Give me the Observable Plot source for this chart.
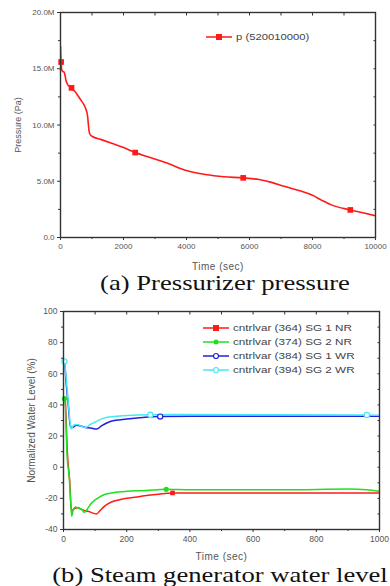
<!DOCTYPE html>
<html><head><meta charset="utf-8">
<script src="https://cdn.jsdelivr.net/npm/d3@7"></script>
<script src="https://cdn.jsdelivr.net/npm/@observablehq/plot@0.6"></script>
<style>
body{margin:0;background:#fff;}
#root{position:relative;width:390px;height:586px;overflow:hidden;font-family:Arial,"Liberation Sans",sans-serif;background:#fff;}
.panel{position:absolute;left:0;}
.cap{position:absolute;white-space:nowrap;font-family:"Liberation Serif","Times New Roman",serif;font-size:22px;line-height:20px;color:#111;transform:translateX(-50%) scaleX(1.21);}
.leg{position:absolute;font-size:9px;line-height:10px;color:#444;white-space:nowrap;}
.leg svg{vertical-align:middle;margin-right:3px;}
.leg span{display:inline-block;vertical-align:middle;transform-origin:0 50%;}
</style></head>
<body><div id="root"></div>
<script>
// ---------- Data: (a) pressurizer pressure (MPa) ----------
const pTime  = [0,10,20,40,80,115,145,170,200,250,300,340,450,625,780,830,860,880,900,930,1000,1300,1600,2000,2370,2800,3400,4000,4600,5200,5800,6300,6700,7100,7600,8000,8300,8600,9200,9600,10000];
const pValue = [17.0,16.0,15.6,14.9,14.75,14.7,14.4,14.0,13.75,13.5,13.4,13.25,13.0,12.3,11.6,11.2,10.8,10.2,9.6,9.2,9.0,8.7,8.4,8.0,7.55,7.15,6.6,5.95,5.6,5.4,5.3,5.15,4.9,4.55,4.15,3.75,3.3,2.9,2.45,2.2,1.93];
const pMarkTime  = [20,350,2370,5800,9200];
const pMarkValue = [15.6,13.3,7.55,5.3,2.45];
const pSeriesName = "p (520010000)";
const pXTicks = [0,2000,4000,6000,8000,10000];
const pXMinor = [1000,3000,5000,7000,9000];
const pYTicks = [0,5,10,15,20];
const pYTickLabels = ["0.0","5.0M","10.0M","15.0M","20.0M"];
const pYMinor = [2.5,7.5,12.5,17.5];

// ---------- Data: (b) steam generator water level (%) ----------
const sgNames = ["cntrlvar (364) SG 1 NR","cntrlvar (374) SG 2 NR","cntrlvar (384) SG 1 WR","cntrlvar (394) SG 2 WR"];
const sgColors = ["#ff1a1a","#1ee01e","#2020dd","#44e8f6"];
const sg1nrTime  = [0,5,12,20,25,35,45,60,80,105,115,130,150,175,200,250,300,345,400,1000];
const sg1nrValue = [45,44,10,-10,-28,-26.5,-26,-27.5,-28.5,-30,-28,-25,-22.5,-21,-20,-18.5,-17.3,-16.5,-16.5,-16.5];
const sg2nrTime  = [0,4,12,18,22,26,30,38,50,58,66,75,85,100,115,130,160,200,260,325,400,700,900,960,1000];
const sg2nrValue = [44,44,5,-6,-20,-31.5,-28,-25.5,-26.5,-27,-29,-27,-24,-21,-19,-17.5,-16.3,-15.5,-15,-14.2,-14.5,-14.5,-14,-14.5,-15.5];
const sg1wrTime  = [0,3,8,15,22,30,40,55,70,85,105,120,150,200,250,306,400,1000];
const sg1wrValue = [68,68,55,40,26,25.5,27,26.5,25.5,25.2,24.5,26.5,29.5,31,32,32.5,32.7,32.7];
const sg2wrTime  = [0,3,8,15,22,25,32,45,55,70,85,100,130,160,200,275,400,960,1000];
const sg2wrValue = [68,68,58,42,27,24.5,27,27.5,26.5,25.5,27.5,29,31.7,32.5,33.2,33.7,33.8,33.6,33.3];
const sgMarkTime  = [[345],[3,325],[306],[3,275,960]];
const sgMarkValue = [[-16.5],[44,-14.2],[32.5],[68,33.7,33.6]];
const sgSymbols = ["square","circle","circle","circle"];
const sgFilled  = [true,true,false,false];
const sXTicks = [0,200,400,600,800,1000];
const sXMinor = [100,300,500,700,900];
const sYTicks = [-40,-20,0,20,40,60,80,100];
const sYMinor = [-30,-10,10,30,50,70,90];

// ---------- Build rows ----------
const pRows = pTime.map((t,i)=>({t, v:pValue[i]}));
const pMarks = pMarkTime.map((t,i)=>({t, v:pMarkValue[i]}));
const sgTimes = [sg1nrTime,sg2nrTime,sg1wrTime,sg2wrTime];
const sgValues = [sg1nrValue,sg2nrValue,sg1wrValue,sg2wrValue];
const sgRows = sgTimes.map((ts,k)=>ts.map((t,i)=>({t, v:sgValues[k][i]})));
const sgMarks = sgMarkTime.map((ts,k)=>ts.map((t,i)=>({t, v:sgMarkValue[k][i]})));

const root = document.getElementById("root");
const axisColor = "#333";
function textStyle(fs){ return {fontFamily:"Arial, 'Liberation Sans', sans-serif", fontSize:fs, color:"#555", background:"transparent", overflow:"visible"}; }

function frameAxes(xT, xM, yT, yM, yFmt, yLabel, yLabelOffset, xLabelOffset) {
  return [
    Plot.axisX({ticks:xM, tickSize:2, tickFormat:()=>"", label:null, stroke:axisColor}),
    Plot.axisX({ticks:xT, tickSize:3, tickPadding:3, tickFormat:d=>String(d), label:"Time (sec)", labelAnchor:"center", labelOffset:xLabelOffset, labelArrow:"none", stroke:axisColor, fill:"#555"}),
    Plot.axisY({ticks:yM, tickSize:2, tickFormat:()=>"", label:null, stroke:axisColor}),
    Plot.axisY({ticks:yT, tickSize:3, tickPadding:3, tickFormat:yFmt, label:yLabel, labelAnchor:"center", labelOffset:yLabelOffset, labelArrow:"none", stroke:axisColor, fill:"#555"}),
    Plot.axisX({anchor:"top", ticks:xT.concat(xM), tickSize:-2.5, tickFormat:()=>"", label:null, stroke:axisColor}),
    Plot.axisY({anchor:"right", ticks:yT.concat(yM), tickSize:-2.5, tickFormat:()=>"", label:null, stroke:axisColor}),
    Plot.frame({stroke:axisColor, strokeWidth:1.4})
  ];
}
function styleLabels(svg, xfs, yfs){
  svg.querySelectorAll('[aria-label="x-axis label"]').forEach(g=>{ g.style.fontSize = xfs; g.style.letterSpacing = "0.5px"; });
  svg.querySelectorAll('[aria-label="y-axis label"]').forEach(g=>{ g.style.fontSize = yfs; });
}

// ---------- Panel (a) ----------
const p1 = Plot.plot({
  width:390, height:272, marginTop:12, marginBottom:35, marginLeft:60, marginRight:15,
  style:textStyle("8px"),
  x:{domain:[0,10000]}, y:{domain:[0,20]},
  marks:[
    Plot.line(pRows, {x:"t", y:"v", stroke:"#ff1a1a", strokeWidth:1.6, curve:"monotone-x", clip:true}),
    Plot.dot(pMarks, {x:"t", y:"v", symbol:"square", fill:"#ff1a1a", r:3.2}),
    ...frameAxes(pXTicks, pXMinor, pYTicks, pYMinor, d=>pYTickLabels[pYTicks.indexOf(d)], "Pressure (Pa)", 46, 32)
  ]
});
styleLabels(p1, "10px", "9px");
p1.classList.add("panel"); p1.style.top = "0px";
root.appendChild(p1);

// ---------- Panel (b) ----------
const marks2 = [];
sgRows.forEach((rows,k)=>{
  marks2.push(Plot.line(rows, {x:"t", y:"v", stroke:sgColors[k], strokeWidth:1.5, curve:"monotone-x", clip:true}));
});
sgMarks.forEach((rows,k)=>{
  marks2.push(Plot.dot(rows, {x:"t", y:"v", symbol:sgSymbols[k], r:2.6,
    fill: sgFilled[k] ? sgColors[k] : "white", stroke: sgColors[k], strokeWidth: sgFilled[k] ? 0 : 1.2}));
});
const p2 = Plot.plot({
  width:390, height:267, marginTop:13, marginBottom:36, marginLeft:63, marginRight:11,
  style:textStyle("8.5px"),
  x:{domain:[0,1000]}, y:{domain:[-40,100]},
  marks:[...marks2, ...frameAxes(sXTicks, sXMinor, sYTicks, sYMinor, d=>String(d), "Normalized Water Level (%)", 36, 30)]
});
styleLabels(p2, "10px", "10px");
p2.classList.add("panel"); p2.style.top = "298px";
root.appendChild(p2);

// ---------- Captions ----------
function caption(text, cx, top){
  const d = document.createElement("div");
  d.className = "cap"; d.textContent = text;
  d.style.left = cx + "px"; d.style.top = top + "px";
  root.appendChild(d);
}
caption("(a) Pressurizer pressure", 225, 273);
caption("(b) Steam generator water level", 220, 565);

// ---------- Legends ----------
function legendRow(left, top, color, symbol, filled, label, stretch){
  const d = document.createElement("div");
  d.className = "leg"; d.style.left = left + "px"; d.style.top = top + "px";
  const ns = "http://www.w3.org/2000/svg";
  const s = document.createElementNS(ns, "svg");
  s.setAttribute("width", 27); s.setAttribute("height", 10);
  const l = document.createElementNS(ns, "line");
  l.setAttribute("x1", 0); l.setAttribute("x2", 26); l.setAttribute("y1", 5); l.setAttribute("y2", 5);
  l.setAttribute("stroke", color); l.setAttribute("stroke-width", 1.5);
  s.appendChild(l);
  let m;
  if (symbol === "square") {
    m = document.createElementNS(ns, "rect");
    m.setAttribute("x", 10); m.setAttribute("y", 2); m.setAttribute("width", 6); m.setAttribute("height", 6);
  } else {
    m = document.createElementNS(ns, "circle");
    m.setAttribute("cx", 13); m.setAttribute("cy", 5); m.setAttribute("r", 2.5);
  }
  m.setAttribute("fill", filled ? color : "white");
  m.setAttribute("stroke", color); m.setAttribute("stroke-width", filled ? 0 : 1.2);
  s.appendChild(m);
  d.appendChild(s);
  const t = document.createElement("span");
  t.textContent = label;
  t.style.transform = `scaleX(${stretch})`;
  d.appendChild(t);
  root.appendChild(d);
}
legendRow(206, 31, "#ff1a1a", "square", true, pSeriesName, 1.25);
sgNames.forEach((name,k)=>legendRow(203, 322 + k*14, sgColors[k], sgSymbols[k], sgFilled[k], name, 1.3));
</script>
</body></html>
